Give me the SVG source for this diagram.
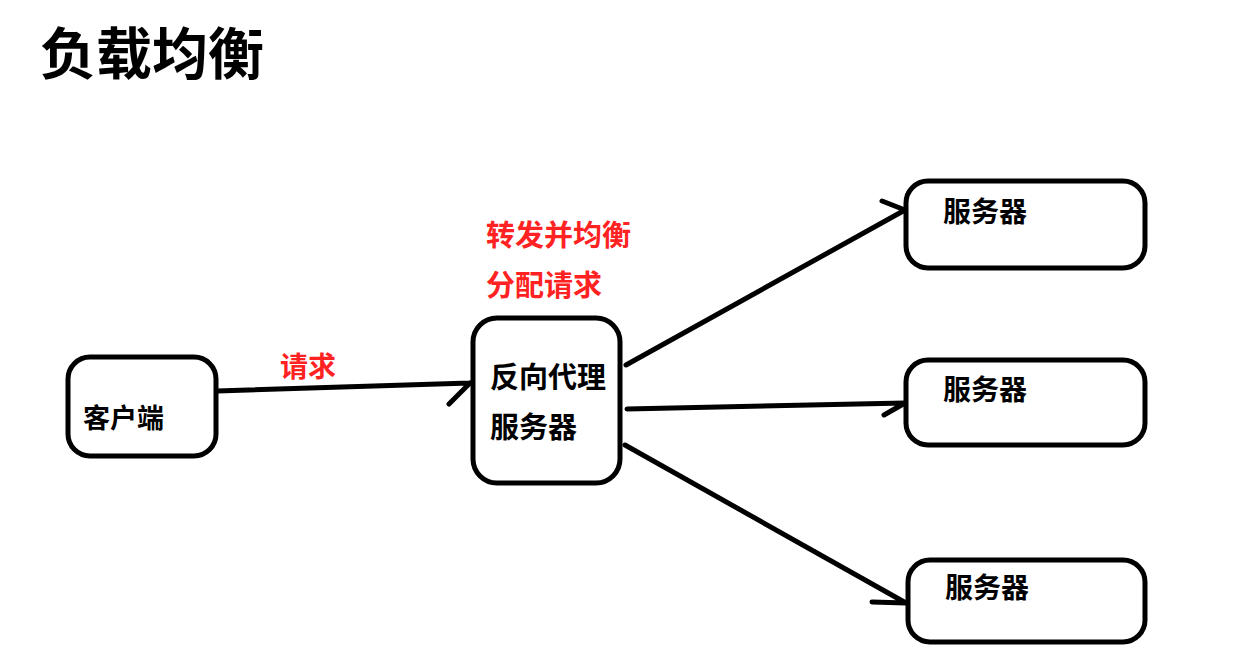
<svg xmlns="http://www.w3.org/2000/svg" width="1255" height="670" viewBox="0 0 1255 670">
<style>
.box{fill:#fff;stroke:#000;stroke-width:5}
.t{font-family:"Noto Sans CJK SC","Noto Sans",sans-serif;font-weight:bold;fill:#000}
.r{font-family:"Noto Sans CJK SC","Noto Sans",sans-serif;font-weight:bold;fill:#f22}
.c{fill:none;stroke:#000;stroke-width:5;stroke-linecap:round;stroke-linejoin:round}
</style>
<rect width="1255" height="670" fill="#fff"/>
<text class="t" x="40" y="74" font-size="56">负载均衡</text>
<g id="connectors">
<path class="c" d="M217,391 L470,383 M470,383 L449,404"/>
<path class="c" d="M626,365 L905,210 M905,210 L882,201"/>
<path class="c" d="M627,409 L905,403 M905,403 L884,415"/>
<path class="c" d="M625,445 L906,603 M906,603 L872,602"/>
</g>
<g id="label-request"><text class="r" x="280" y="377" font-size="28">请求</text></g>
<g id="label-forward">
<text class="r" x="486" y="246" font-size="29">转发并均衡</text>
<text class="r" x="486" y="296" font-size="29">分配请求</text>
</g>
<g id="client">
<rect class="box" x="68" y="357" width="148" height="99" rx="22"/>
<text class="t" x="83" y="428" font-size="27">客户端</text>
</g>
<g id="proxy">
<rect class="box" x="473" y="318" width="147" height="165" rx="24"/>
<text class="t" x="490" y="388" font-size="29">反向代理</text>
<text class="t" x="490" y="438" font-size="29">服务器</text>
</g>
<g id="server1">
<rect class="box" x="906" y="181" width="239" height="87" rx="22"/>
<text class="t" x="943" y="222" font-size="28">服务器</text>
</g>
<g id="server2">
<rect class="box" x="906" y="360" width="239" height="85" rx="22"/>
<text class="t" x="943" y="400" font-size="28">服务器</text>
</g>
<g id="server3">
<rect class="box" x="908" y="560" width="237" height="82" rx="22"/>
<text class="t" x="945" y="598" font-size="28">服务器</text>
</g>
</svg>
